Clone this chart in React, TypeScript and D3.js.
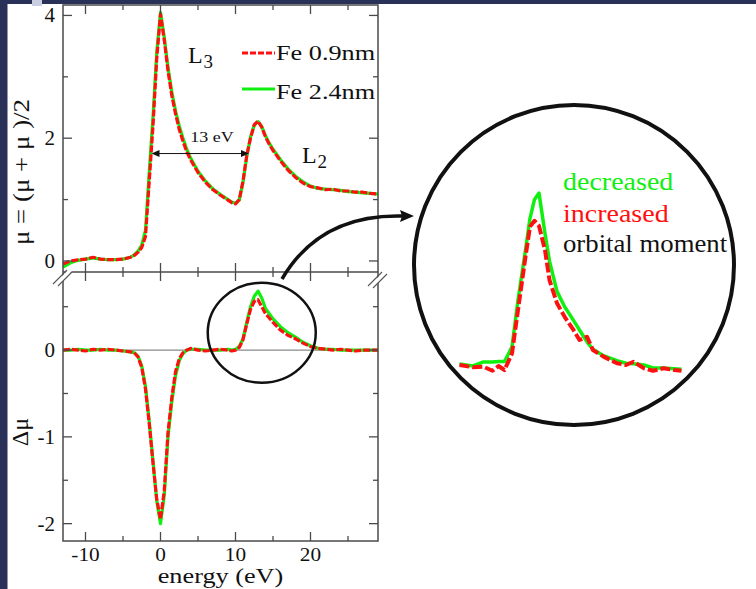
import * as d3 from "d3";

// energy grid (eV) shared by both panels
const energy = [-13, -12, -11, -10, -9, -8, -7, -6, -5, -4, -3.5, -3, -2.5, -2, -1.5, -1, -0.5, 0, 0.5, 1, 1.5, 2, 2.5, 3, 3.5, 4, 5, 6, 7, 8, 9, 9.5, 10, 10.5, 11, 11.5, 12, 12.5, 13, 13.5, 14, 14.5, 15, 16, 17, 18, 19, 20, 21, 22, 23, 24, 25, 26, 27, 28, 29];

// upper panel: mu = (mu+ + mu-)/2
const avgFe09 = [-0.05, 0.0, 0.02, 0.03, 0.06, 0.03, 0.02, 0.02, 0.03, 0.06, 0.09, 0.14, 0.22, 0.4, 1.3, 2.2, 3.3, 4.02, 3.6, 3.1, 2.7, 2.4, 2.14, 1.95, 1.78, 1.65, 1.44, 1.28, 1.16, 1.07, 0.99, 0.95, 0.93, 1.0, 1.3, 1.72, 2.0, 2.22, 2.28, 2.18, 2.02, 1.9, 1.8, 1.63, 1.48, 1.36, 1.27, 1.21, 1.19, 1.16, 1.17, 1.14, 1.14, 1.12, 1.12, 1.1, 1.09];
const avgFe24 = [-0.1, -0.03, 0.01, 0.03, 0.05, 0.03, 0.02, 0.02, 0.03, 0.06, 0.1, 0.16, 0.26, 0.5, 1.45, 2.35, 3.4, 4.05, 3.65, 3.15, 2.76, 2.45, 2.2, 2.0, 1.82, 1.68, 1.46, 1.3, 1.17, 1.08, 1.0, 0.96, 0.94, 0.99, 1.28, 1.7, 2.02, 2.21, 2.27, 2.19, 2.04, 1.92, 1.82, 1.65, 1.5, 1.38, 1.29, 1.22, 1.18, 1.17, 1.16, 1.15, 1.13, 1.12, 1.11, 1.1, 1.09];

// lower panel: delta mu
const dFe09 = [0, 0.01, 0, -0.01, 0.01, 0, 0.01, 0, -0.01, -0.02, -0.03, -0.08, -0.2, -0.45, -0.85, -1.3, -1.72, -1.95, -1.62, -0.95, -0.55, -0.25, -0.1, -0.03, 0, 0.02, 0, -0.01, 0, 0.01, 0, -0.01, 0, 0.03, 0.12, 0.3, 0.47, 0.56, 0.58, 0.5, 0.42, 0.37, 0.32, 0.23, 0.17, 0.13, 0.08, 0.04, 0.02, 0.01, 0, 0.01, 0, -0.01, 0, 0, 0];
const dFe24 = [0, 0, 0.01, 0, 0, 0.01, 0, 0, -0.01, -0.02, -0.03, -0.07, -0.18, -0.42, -0.82, -1.28, -1.74, -2.0, -1.68, -1.0, -0.6, -0.3, -0.12, -0.04, 0, 0.01, 0.01, 0, 0, 0, 0.01, 0, 0.01, 0.04, 0.13, 0.32, 0.5, 0.62, 0.68, 0.6, 0.48, 0.42, 0.36, 0.27, 0.2, 0.15, 0.09, 0.05, 0.02, 0.01, 0.01, 0, 0, 0, 0, 0, 0];

// magnified L2 region
const insetEnergy = [7.1, 8, 8.7, 9.3, 9.7, 10.1, 10.6, 11, 11.5, 11.8, 12.1, 12.4, 12.8, 13.1, 13.6, 14.1, 14.7, 15.1, 15.6, 16, 16.7, 17.6, 18.2, 18.7, 19.4, 20, 20.7, 21.4, 21.9];
const insetFe09 = [0.008, -0.001, 0.001, -0.015, 0.004, -0.012, 0.054, 0.226, 0.438, 0.557, 0.58, 0.56, 0.464, 0.345, 0.253, 0.2, 0.147, 0.107, 0.12, 0.067, 0.041, 0.015, 0.008, 0.021, -0.005, -0.015, -0.005, -0.012, -0.015];
const insetFe24 = [0.012, 0.004, 0.02, 0.02, 0.022, 0.022, 0.08, 0.266, 0.464, 0.59, 0.665, 0.69, 0.53, 0.42, 0.3, 0.24, 0.185, 0.147, 0.1, 0.07, 0.045, 0.025, 0.015, 0.013, 0.008, -0.004, -0.004, -0.007, -0.009];

const xMajor = [-10, 0, 10, 20];
const xMinor = [-5, 5, 15, 25];
const topMajor = [0, 2, 4];
const topMinor = [1, 3];
const botMajor = [0, -1, -2];
const botMinor = [0.5, -0.5, -1.5];

const RED = "#ff1010";
const GREEN = "#10f010";
const NAVY = "#2a3158";
const FRAME = "#4a4a4a";
const SERIF = "Liberation Serif, Times New Roman, serif";

const T = ({ x, y, sx = 1, size, anchor = "start", fill = "#111", rotate = 0, children }: any) => (
  <text
    transform={`translate(${x},${y}) rotate(${rotate}) scale(${sx},1)`}
    fontSize={size}
    fontFamily={SERIF}
    textAnchor={anchor}
    fill={fill}
  >
    {children}
  </text>
);

const App = () => {
  const width = 756, height = 589;
  const left = 63, right = 378, top = 5, mid = 272, bottom = 541;

  const x = d3.scaleLinear().domain([-13, 29]).range([left, right]);
  const yTop = d3.scaleLinear().domain([-0.18, 4.17]).range([mid, top]);
  const yBot = d3.scaleLinear().domain([-2.2, 0.9]).range([bottom, mid]);
  const ix = d3.scaleLinear().domain([7, 22]).range([458, 683]);
  const iy = d3.scaleLinear().domain([0, 1]).range([367, 115]);

  const lineTop = (vals: number[]) =>
    d3.line<number>().x((_, i) => x(energy[i])).y((v) => yTop(v))(vals) || "";
  const lineBot = (vals: number[]) =>
    d3.line<number>().x((_, i) => x(energy[i])).y((v) => yBot(v))(vals) || "";
  const lineInset = (vals: number[]) =>
    d3.line<number>().x((_, i) => ix(insetEnergy[i])).y((v) => iy(v))(vals) || "";

  const MAJ = 9, MIN = 5;

  const xTicks = (yEdge: number, dir: number) => (
    <g>
      {xMajor.map((t) => (
        <line key={"M" + t} x1={x(t)} x2={x(t)} y1={yEdge} y2={yEdge + dir * MAJ} stroke={FRAME} strokeWidth={1.3} />
      ))}
      {xMinor.map((t) => (
        <line key={"m" + t} x1={x(t)} x2={x(t)} y1={yEdge} y2={yEdge + dir * MIN} stroke={FRAME} strokeWidth={1.3} />
      ))}
    </g>
  );

  const yTicks = (scale: any, major: number[], minor: number[]) => (
    <g>
      {major.map((t) => (
        <g key={"M" + t}>
          <line x1={left} x2={left + MAJ} y1={scale(t)} y2={scale(t)} stroke={FRAME} strokeWidth={1.3} />
          <line x1={right} x2={right - MAJ} y1={scale(t)} y2={scale(t)} stroke={FRAME} strokeWidth={1.3} />
          <T x={55} y={scale(t) + 7} size={20} sx={1.05} anchor="end">{t < 0 ? "-" + Math.abs(t) : t}</T>
        </g>
      ))}
      {minor.map((t) => (
        <g key={"m" + t}>
          <line x1={left} x2={left + MIN} y1={scale(t)} y2={scale(t)} stroke={FRAME} strokeWidth={1.3} />
          <line x1={right} x2={right - MIN} y1={scale(t)} y2={scale(t)} stroke={FRAME} strokeWidth={1.3} />
        </g>
      ))}
    </g>
  );

  const breakMark = (cx: number, cy: number) => (
    <g>
      <polygon points={`${cx - 9},${cy + 9} ${cx - 4},${cy + 9} ${cx + 9},${cy - 5} ${cx + 4},${cy - 5}`} fill="white" />
      <line x1={cx - 10} y1={cy + 8} x2={cx + 4} y2={cy - 6} stroke="#555" strokeWidth={1.1} />
      <line x1={cx - 5} y1={cy + 10} x2={cx + 9} y2={cy - 4} stroke="#555" strokeWidth={1.1} />
    </g>
  );

  // 13 eV annotation
  const arrowY = yTop(1.75);
  const ax1 = x(-1.2), ax2 = x(11.8);

  // small circle around L2 dichroism
  const cx0 = x(13.5), cy0 = yBot(0.2);

  return (
    <svg width={width} height={height} style={{ position: "absolute", left: 0, top: 0 }}>
      <rect width={width} height={height} fill="white" />
      <rect x={0} y={0} width={width} height={4} fill={NAVY} />
      <rect x={0} y={0} width={7.5} height={height} fill={NAVY} />
      <rect x={32} y={0} width={10} height={6} fill="#c9cfe0" />

      {/* zero line lower panel */}
      <line x1={left} x2={right} y1={yBot(0)} y2={yBot(0)} stroke="#8a8a8a" strokeWidth={1.2} />

      {/* curves */}
      <path d={lineTop(avgFe24)} fill="none" stroke={GREEN} strokeWidth={3.2} strokeLinejoin="round" />
      <path d={lineTop(avgFe09)} fill="none" stroke={RED} strokeWidth={3.2} strokeDasharray="7,2" strokeLinejoin="round" />
      <path d={lineBot(dFe24)} fill="none" stroke={GREEN} strokeWidth={3.2} strokeLinejoin="round" />
      <path d={lineBot(dFe09)} fill="none" stroke={RED} strokeWidth={3.2} strokeDasharray="7,2" strokeLinejoin="round" />

      {/* frames */}
      <rect x={left} y={top} width={right - left} height={bottom - top} fill="none" stroke={FRAME} strokeWidth={1.5} />
      <line x1={left} x2={right} y1={mid} y2={mid} stroke={FRAME} strokeWidth={1.5} />
      {xTicks(top, 1)}
      {xTicks(mid, -1)}
      {xTicks(mid, 1)}
      {xTicks(bottom, -1)}
      {yTicks(yTop, topMajor, topMinor)}
      {yTicks(yBot, botMajor, botMinor)}
      {breakMark(left, 276)}
      {breakMark(right, 278)}

      {/* x tick labels */}
      {xMajor.map((t) => (
        <T key={t} x={x(t)} y={561} size={19} sx={1.12} anchor="middle">{t < 0 ? "-" + Math.abs(t) : t}</T>
      ))}
      <T x={(left + right) / 2} y={583} size={21} sx={1.25} anchor="middle">energy (eV)</T>

      {/* y labels */}
      <T x={29} y={172} size={23} sx={1.17} rotate={-90} anchor="middle">μ = (μ   + μ   )/2</T>
      <T x={28} y={432} size={24} rotate={-90} anchor="middle">Δμ</T>

      {/* legend */}
      <line x1={242} x2={275} y1={53} y2={53} stroke={RED} strokeWidth={3} strokeDasharray="6,2" />
      <T x={276} y={60} size={21} sx={1.25}>Fe 0.9nm</T>
      <line x1={242} x2={275} y1={89} y2={89} stroke={GREEN} strokeWidth={3} />
      <T x={276} y={99} size={21} sx={1.25}>Fe 2.4nm</T>

      {/* edge labels */}
      <T x={188} y={63} size={24}>L</T>
      <T x={203.5} y={68} size={19}>3</T>
      <T x={302} y={163} size={24}>L</T>
      <T x={317.5} y={168} size={19}>2</T>

      {/* 13 eV arrow */}
      <line x1={ax1 + 6} x2={ax2 - 6} y1={arrowY} y2={arrowY} stroke="#111" strokeWidth={1} />
      <polygon points={`${ax1},${arrowY} ${ax1 + 8},${arrowY - 3.5} ${ax1 + 8},${arrowY + 3.5}`} fill="#111" />
      <polygon points={`${ax2},${arrowY} ${ax2 - 8},${arrowY - 3.5} ${ax2 - 8},${arrowY + 3.5}`} fill="#111" />
      <T x={212} y={142} size={15} sx={1.2} anchor="middle">13 eV</T>

      {/* zoom circle and arrow */}
      <ellipse cx={cx0} cy={cy0} rx={54} ry={50} fill="none" stroke="#111" strokeWidth={2.5} />
      <path d="M282,279 Q320,214 402,216" fill="none" stroke="#111" strokeWidth={3.5} />
      <polygon points="414,216 400,210 402,216 400,222" fill="#111" />
      <circle cx={574} cy={265} r={160} fill="none" stroke="#111" strokeWidth={4} />

      {/* inset */}
      <path d={lineInset(insetFe24)} fill="none" stroke={GREEN} strokeWidth={3.5} strokeLinejoin="round" />
      <path d={lineInset(insetFe09)} fill="none" stroke={RED} strokeWidth={4} strokeDasharray="10,3" strokeLinejoin="round" />
      <T x={563} y={190} size={25} sx={1.12} fill={GREEN}>decreased</T>
      <T x={563} y={222} size={25} sx={1.12} fill={RED}>increased</T>
      <T x={563} y={252} size={25} sx={1.07}>orbital moment</T>
    </svg>
  );
};

export default App;
